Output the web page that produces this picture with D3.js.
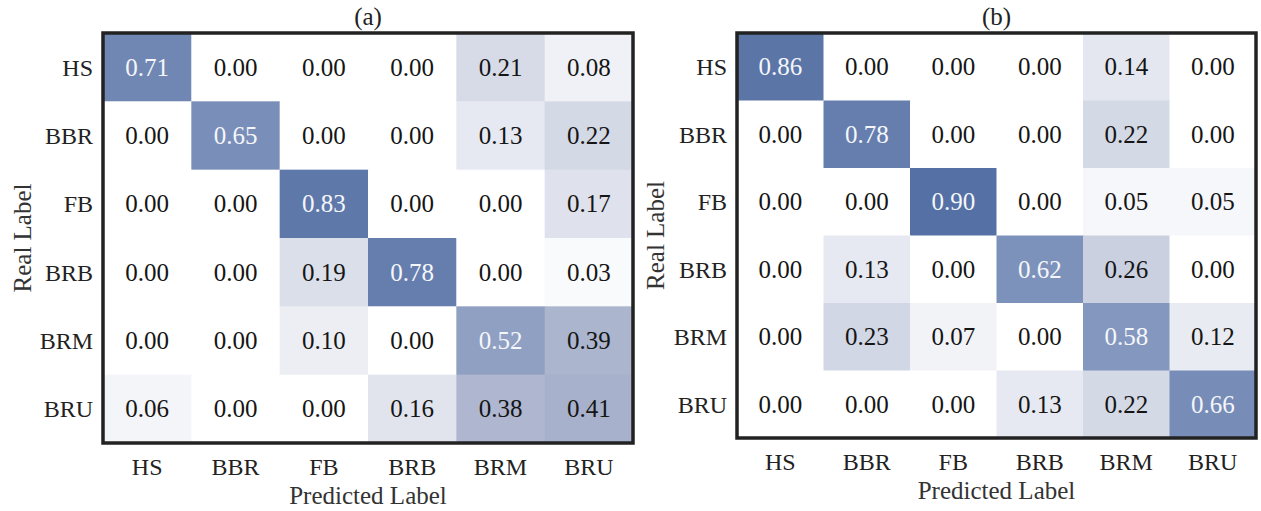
<!DOCTYPE html>
<html>
<head>
<meta charset="utf-8">
<script src="https://cdn.jsdelivr.net/npm/d3@7"></script>
<style>
  html, body { margin: 0; padding: 0; background: #ffffff; }
  svg { display: block; }
  svg text { font-family: "Liberation Serif", "Times New Roman", Times, Tinos, "Noto Serif", "DejaVu Serif", serif !important; }
</style>
</head>
<body>
<svg id="chart" width="1261" height="511"></svg>
<script>
// Class labels shared by both confusion matrices
const categories = ["HS", "BBR", "FB", "BRB", "BRM", "BRU"];
const xTickLabels = ["HS", "BBR", "FB", "BRB", "BRM", "BRU"];
const yTickLabels = ["HS", "BBR", "FB", "BRB", "BRM", "BRU"];

// Row = real label, column = predicted label
const matrixA = [
  [0.71, 0.00, 0.00, 0.00, 0.21, 0.08],
  [0.00, 0.65, 0.00, 0.00, 0.13, 0.22],
  [0.00, 0.00, 0.83, 0.00, 0.00, 0.17],
  [0.00, 0.00, 0.19, 0.78, 0.00, 0.03],
  [0.00, 0.00, 0.10, 0.00, 0.52, 0.39],
  [0.06, 0.00, 0.00, 0.16, 0.38, 0.41]
];
const matrixB = [
  [0.86, 0.00, 0.00, 0.00, 0.14, 0.00],
  [0.00, 0.78, 0.00, 0.00, 0.22, 0.00],
  [0.00, 0.00, 0.90, 0.00, 0.05, 0.05],
  [0.00, 0.13, 0.00, 0.62, 0.26, 0.00],
  [0.00, 0.23, 0.07, 0.00, 0.58, 0.12],
  [0.00, 0.00, 0.00, 0.13, 0.22, 0.66]
];
const panelTitles = ["(a)", "(b)"];
const xAxisTitle = "Predicted Label";
const yAxisTitle = "Real Label";

// Sequential white-to-slate-blue colour map
const color = d3.scaleLinear()
  .domain([0, 0.2, 0.4, 0.6, 0.9, 1])
  .range(["#ffffff", "#d9dde9", "#a9b3cc", "#8094bc", "#5570a4", "#4b67a0"])
  .clamp(true);

const svg = d3.select("#chart");

const panels = [
  { data: matrixA, title: panelTitles[0], x0: 103, x1: 633, y0: 33, y1: 443, yTitleX: 22 },
  { data: matrixB, title: panelTitles[1], x0: 737, x1: 1256, y0: 33, y1: 438, yTitleX: 655 }
];

panels.forEach(p => {
  const g = svg.append("g");

  const x = d3.scaleBand().domain(categories).range([p.x0, p.x1]);
  const y = d3.scaleBand().domain(categories).range([p.y0, p.y1]);

  const cells = [];
  p.data.forEach((row, i) => row.forEach((v, j) => {
    cells.push({ real: categories[i], pred: categories[j], v });
  }));

  // Heatmap cells
  g.selectAll("rect.cell").data(cells).join("rect")
    .attr("class", "cell")
    .attr("x", d => x(d.pred))
    .attr("y", d => y(d.real))
    .attr("width", x.bandwidth() + 0.5)
    .attr("height", y.bandwidth() + 0.5)
    .attr("fill", d => color(d.v));

  // Cell annotations
  g.selectAll("text.val").data(cells).join("text")
    .attr("class", "val")
    .attr("x", d => x(d.pred) + x.bandwidth() / 2)
    .attr("y", d => y(d.real) + y.bandwidth() / 2)
    .attr("text-anchor", "middle")
    .attr("dominant-baseline", "central")
    .attr("font-size", 25)
    .attr("fill", d => d.v > 0.5 ? "#f4f6fa" : "#151515")
    .text(d => d.v.toFixed(2));

  // Frame
  g.append("rect")
    .attr("x", p.x0).attr("y", p.y0)
    .attr("width", p.x1 - p.x0).attr("height", p.y1 - p.y0)
    .attr("fill", "none")
    .attr("stroke", "#222222")
    .attr("stroke-width", 3.5);

  // Bottom axis (predicted)
  const xAxis = d3.axisBottom(x).tickSize(0).tickPadding(0)
    .tickFormat((d, i) => xTickLabels[i]);
  const gx = g.append("g").attr("transform", `translate(0,${p.y1})`).call(xAxis);
  gx.attr("font-family", null);
  gx.select(".domain").remove();
  gx.selectAll("text")
    .attr("font-size", 24)
    .attr("fill", "#222")
    .attr("dy", null)
    .attr("y", 32);

  // Left axis (real)
  const yAxis = d3.axisLeft(y).tickSize(0).tickPadding(10)
    .tickFormat((d, i) => yTickLabels[i]);
  const gy = g.append("g").attr("transform", `translate(${p.x0},0)`).call(yAxis);
  gy.attr("font-family", null);
  gy.select(".domain").remove();
  gy.selectAll("text")
    .attr("font-size", 24)
    .attr("fill", "#222")
    .attr("dy", "0.35em");

  // Panel title
  g.append("text")
    .attr("x", (p.x0 + p.x1) / 2)
    .attr("y", p.y0 - 8)
    .attr("text-anchor", "middle")
    .attr("font-size", 25)
    .attr("fill", "#222")
    .text(p.title);

  // Axis titles
  g.append("text")
    .attr("x", (p.x0 + p.x1) / 2)
    .attr("y", p.y1 + 61)
    .attr("text-anchor", "middle")
    .attr("font-size", 25)
    .attr("fill", "#333")
    .text(xAxisTitle);

  g.append("text")
    .attr("transform", `translate(${p.yTitleX},${(p.y0 + p.y1) / 2}) rotate(-90)`)
    .attr("text-anchor", "middle")
    .attr("dominant-baseline", "central")
    .attr("font-size", 25)
    .attr("fill", "#333")
    .text(yAxisTitle);
});
</script>
</body>
</html>
